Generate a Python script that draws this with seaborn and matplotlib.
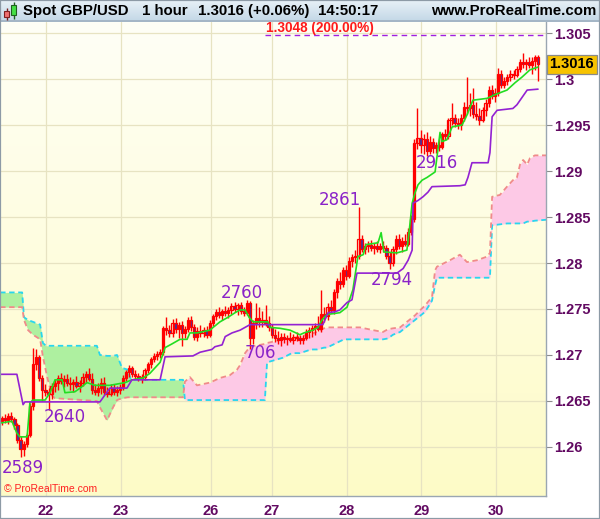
import numpy as np
import matplotlib
matplotlib.use("Agg")
import matplotlib.pyplot as plt
import matplotlib.transforms as mtransforms
from matplotlib.patches import Rectangle
import seaborn as sns

# ---------------- data ----------------
first_open = 1.2628
closes = [1.2631, 1.2629, 1.2634, 1.2630, 1.2624, 1.2608, 1.2598, 1.2603, 1.2613, 1.2645,
          1.2690, 1.2698, 1.2675, 1.2662, 1.2660, 1.2658, 1.2666, 1.2670, 1.2675, 1.2672,
          1.2674, 1.2670, 1.2668, 1.2671, 1.2666, 1.2670, 1.2676, 1.2679, 1.2674, 1.2662,
          1.2660, 1.2664, 1.2670, 1.2660, 1.2658, 1.2664, 1.2660, 1.2662, 1.2665, 1.2675,
          1.2681, 1.2686, 1.2679, 1.2677, 1.2674, 1.2676, 1.2684, 1.2690, 1.2696, 1.2699,
          1.2701, 1.2703, 1.2729, 1.2727, 1.2724, 1.2735, 1.2728, 1.2733, 1.2724, 1.2728,
          1.2738, 1.2730, 1.2720, 1.2726, 1.2724, 1.2727, 1.2722, 1.2735, 1.2742, 1.2747,
          1.2744, 1.2748, 1.2746, 1.2749, 1.2753, 1.2750, 1.2754, 1.2748, 1.2746, 1.2757,
          1.2718, 1.2735, 1.2740, 1.2736, 1.2738, 1.2735, 1.2730, 1.2722, 1.2719, 1.2716,
          1.2720, 1.2717, 1.2719, 1.2716, 1.2720, 1.2718, 1.2716, 1.2719, 1.2725, 1.2727,
          1.2729, 1.2731, 1.2728, 1.2745, 1.2742, 1.2752, 1.2749, 1.2768, 1.2780, 1.2777,
          1.2792, 1.2786, 1.2802, 1.2806, 1.2808, 1.2826, 1.2815, 1.2818, 1.2820, 1.2816,
          1.2819, 1.2815, 1.2818, 1.2816, 1.2808, 1.2800, 1.2815, 1.2826, 1.2818, 1.2824,
          1.2821, 1.2834, 1.2848, 1.2930, 1.2936, 1.2928, 1.2935, 1.2922, 1.2932, 1.2925,
          1.2928, 1.2926, 1.2940, 1.2938, 1.2955, 1.2958, 1.2952, 1.2950, 1.2958, 1.2970,
          1.2968, 1.2972, 1.2962, 1.2960, 1.2956, 1.2966, 1.2974, 1.2988, 1.2982, 1.2985,
          1.3006, 1.2994, 1.2998, 1.3002, 1.3006, 1.3004, 1.3011, 1.3019, 1.3016, 1.3018,
          1.3015, 1.3020, 1.3024, 1.3016]
highs = [1.2634, 1.2636, 1.2637, 1.2638, 1.2633, 1.2626, 1.2612, 1.2606, 1.2615, 1.2648,
         1.2708, 1.2706, 1.2700, 1.2678, 1.2668, 1.2664, 1.2670, 1.2674, 1.2678, 1.2680,
         1.2678, 1.2679, 1.2676, 1.2674, 1.2677, 1.2673, 1.2680, 1.2683, 1.2686, 1.2680,
         1.2668, 1.2670, 1.2675, 1.2676, 1.2665, 1.2668, 1.2668, 1.2666, 1.2668, 1.2678,
         1.2684, 1.2689, 1.2688, 1.2684, 1.2680, 1.2679, 1.2686, 1.2692, 1.2698, 1.2702,
         1.2704, 1.2706, 1.2732, 1.2741, 1.2733, 1.2739, 1.2740, 1.2736, 1.2737, 1.2732,
         1.2741, 1.2742, 1.2734, 1.2730, 1.2733, 1.2730, 1.2732, 1.2738, 1.2745, 1.2750,
         1.2752, 1.2750, 1.2753, 1.2752, 1.2756, 1.2758, 1.2757, 1.2758, 1.2752, 1.2760,
         1.2759, 1.2738, 1.2756, 1.2752, 1.2748, 1.2754, 1.2742, 1.2734, 1.2728, 1.2726,
         1.2724, 1.2724, 1.2722, 1.2725, 1.2723, 1.2725, 1.2722, 1.2722, 1.2728, 1.2730,
         1.2733, 1.2735, 1.2742, 1.2771, 1.2752, 1.2756, 1.2760, 1.2772, 1.2784, 1.2790,
         1.2796, 1.2798, 1.2806, 1.2810, 1.2814, 1.2861, 1.2830, 1.2822, 1.2824, 1.2825,
         1.2822, 1.2824, 1.2822, 1.2824, 1.2820, 1.2812, 1.2818, 1.2830, 1.2832, 1.2828,
         1.2832, 1.2838, 1.2852, 1.2935, 1.2968, 1.2945, 1.2940, 1.2942, 1.2938, 1.2936,
         1.2932, 1.2935, 1.2942, 1.2946, 1.2958, 1.2974, 1.2962, 1.2958, 1.2962, 1.2975,
         1.3002, 1.2985, 1.2990, 1.2975, 1.2968, 1.2970, 1.2978, 1.2992, 1.2994, 1.2990,
         1.3012, 1.3010, 1.3002, 1.3006, 1.3010, 1.3010, 1.3014, 1.3022, 1.3028, 1.3022,
         1.3024, 1.3024, 1.3026, 1.3026]
lows = [1.2624, 1.2626, 1.2625, 1.2627, 1.2620, 1.2604, 1.2589, 1.2590, 1.2600, 1.2611,
        1.2640, 1.2684, 1.2672, 1.2650, 1.2655, 1.2640, 1.2652, 1.2660, 1.2662, 1.2668,
        1.2665, 1.2666, 1.2662, 1.2660, 1.2664, 1.2660, 1.2666, 1.2670, 1.2672, 1.2658,
        1.2656, 1.2655, 1.2658, 1.2656, 1.2654, 1.2655, 1.2656, 1.2655, 1.2658, 1.2662,
        1.2672, 1.2676, 1.2676, 1.2674, 1.2672, 1.2670, 1.2673, 1.2680, 1.2686, 1.2692,
        1.2695, 1.2697, 1.2700, 1.2722, 1.2720, 1.2720, 1.2724, 1.2719, 1.2710, 1.2718,
        1.2725, 1.2726, 1.2716, 1.2715, 1.2720, 1.2720, 1.2718, 1.2720, 1.2732, 1.2738,
        1.2740, 1.2738, 1.2742, 1.2740, 1.2745, 1.2747, 1.2744, 1.2745, 1.2742, 1.2743,
        1.2706, 1.2712, 1.2728, 1.2730, 1.2730, 1.2732, 1.2726, 1.2718, 1.2714, 1.2712,
        1.2710, 1.2713, 1.2711, 1.2714, 1.2712, 1.2715, 1.2712, 1.2712, 1.2716, 1.2718,
        1.2720, 1.2722, 1.2726, 1.2725, 1.2736, 1.2738, 1.2746, 1.2745, 1.2762, 1.2772,
        1.2774, 1.2782, 1.2784, 1.2796, 1.2800, 1.2804, 1.2812, 1.2810, 1.2812, 1.2813,
        1.2810, 1.2812, 1.2811, 1.2812, 1.2804, 1.2794, 1.2797, 1.2810, 1.2815, 1.2812,
        1.2818, 1.2818, 1.2830, 1.2845, 1.2924, 1.2920, 1.2918, 1.2916, 1.2918, 1.2920,
        1.2920, 1.2922, 1.2924, 1.2934, 1.2935, 1.2950, 1.2948, 1.2946, 1.2945, 1.2954,
        1.2962, 1.2960, 1.2958, 1.2955, 1.2950, 1.2953, 1.2960, 1.2970, 1.2978, 1.2975,
        1.2982, 1.2990, 1.2990, 1.2994, 1.2998, 1.3000, 1.3002, 1.3008, 1.3012, 1.3010,
        1.3012, 1.3006, 1.3010, 1.2998]

tenkan_x = [-0.6, 3.2, 4.8, 5.8, 8.1, 9.0, 10.0, 13.9, 15.5, 17.1, 19.4, 20.3, 23.5, 25.2,
            27.4, 30.0, 34.8, 39.7, 41.9, 45.5, 47.7, 51.0, 52.6, 54.8, 57.4, 59.7, 60.6,
            62.9, 67.1, 68.1, 70.3, 72.9, 75.2, 76.8, 78.4, 79.7, 81.0, 85.8, 86.5, 89.7,
            92.9, 96.1, 97.4, 100.3, 101.9, 103.2, 104.8, 109.0, 111.3, 113.2, 114.8, 116.5,
            117.4, 121.3, 122.3, 123.2, 127.4, 130.6, 131.3, 132.3, 133.2, 134.2, 135.5,
            137.1, 139.7, 140.6, 141.3, 141.9, 143.5, 145.2, 148.4, 150.0, 151.9, 156.5,
            159.0, 162.9, 165.5, 167.7, 170.3, 172.9]
tenkan_y = [1.2626, 1.2628, 1.2615, 1.2611, 1.2611, 1.2648, 1.2651, 1.2651, 1.2659, 1.2673,
            1.2673, 1.2659, 1.2660, 1.2664, 1.2670, 1.2667, 1.2667, 1.2670, 1.2673, 1.2675,
            1.2680, 1.2692, 1.2708, 1.2712, 1.2717, 1.2717, 1.2724, 1.2724, 1.2727, 1.2730,
            1.2736, 1.2741, 1.2746, 1.2749, 1.2749, 1.2741, 1.2736, 1.2736, 1.2730, 1.2729,
            1.2727, 1.2722, 1.2724, 1.2727, 1.2730, 1.2738, 1.2744, 1.2746, 1.2752, 1.2771,
            1.2807, 1.2809, 1.2820, 1.2822, 1.2833, 1.2812, 1.2811, 1.2814, 1.2833, 1.2865,
            1.2876, 1.2885, 1.2890, 1.2893, 1.2899, 1.2923, 1.2942, 1.2932, 1.2934, 1.2948,
            1.2950, 1.2961, 1.2977, 1.2979, 1.2983, 1.2988, 1.2996, 1.3002, 1.3010, 1.3013]

kijun_x = [-0.6, 4.8, 6.8, 7.4, 31.6, 34.8, 40.3, 41.9, 51.0, 52.6, 61.6, 63.9, 67.7, 68.7,
           71.0, 72.0, 74.2, 76.8, 78.4, 80.0, 103.5, 105.2, 107.4, 109.0, 111.3, 112.9,
           114.5, 127.4, 129.4, 131.0, 132.3, 132.6, 134.2, 135.8, 137.4, 138.7, 147.7,
           149.4, 150.3, 151.6, 156.8, 157.4, 158.1, 159.7, 164.8, 166.1, 169.4, 172.9]
kijun_y = [1.2679, 1.2679, 1.2646, 1.2649, 1.2649, 1.2664, 1.2664, 1.2673, 1.2673, 1.2698,
           1.2699, 1.2703, 1.2706, 1.2709, 1.2711, 1.2720, 1.2724, 1.2727, 1.2730, 1.2733,
           1.2733, 1.2746, 1.2747, 1.2749, 1.2757, 1.2760, 1.2789, 1.2789, 1.2794, 1.2803,
           1.2814, 1.2865, 1.2868, 1.2872, 1.2877, 1.2883, 1.2884, 1.2885, 1.2893, 1.2909,
           1.2909, 1.2920, 1.2959, 1.2966, 1.2968, 1.2972, 1.2988, 1.2989]

cloud_x = [-0.6, 6.5, 7.1, 8.4, 10.0, 12.3, 13.2, 14.2, 14.8, 16.1, 17.1, 30.6, 31.6, 33.9,
           35.8, 37.1, 38.7, 40.6, 41.6, 58.4, 59.0, 60.6, 62.9, 67.1, 70.3, 73.5, 75.8,
           76.8, 78.4, 80.0, 84.8, 85.5, 90.6, 93.5, 96.1, 99.7, 101.6, 103.9, 104.8, 110.3,
           115.5, 119.7, 122.9, 124.5, 126.1, 128.4, 133.2, 136.5, 138.7, 139.7, 140.3,
           144.5, 147.7, 150.0, 153.2, 156.5, 157.4, 158.1, 160.6, 162.9, 164.8, 166.1,
           167.1, 168.1, 169.4, 170.3, 171.9, 175.5]
span_a = [1.2768, 1.2768, 1.2741, 1.2738, 1.2736, 1.2733, 1.2713, 1.2710, 1.2710, 1.2710,
          1.2710, 1.2710, 1.2700, 1.2699, 1.2699, 1.2700, 1.2686, 1.2684, 1.2673, 1.2673,
          1.2651, 1.2651, 1.2651, 1.2651, 1.2651, 1.2651, 1.2651, 1.2651, 1.2651, 1.2651,
          1.2651, 1.2692, 1.2697, 1.2702, 1.2702, 1.2706, 1.2706, 1.2708, 1.2708, 1.2717,
          1.2717, 1.2717, 1.2717, 1.2718, 1.2722, 1.2725, 1.2738, 1.2747, 1.2759, 1.2776,
          1.2784, 1.2784, 1.2784, 1.2784, 1.2784, 1.2784, 1.2784, 1.2841, 1.2842, 1.2843,
          1.2843, 1.2843, 1.2843, 1.2843, 1.2845, 1.2845, 1.2846, 1.2847]
span_b = [1.2752, 1.2752, 1.2738, 1.2727, 1.2722, 1.2717, 1.2698, 1.2682, 1.2673, 1.2656,
          1.2653, 1.2650, 1.2643, 1.2629, 1.2643, 1.2651, 1.2653, 1.2654, 1.2654, 1.2654,
          1.2671, 1.2676, 1.2667, 1.2670, 1.2675, 1.2678, 1.2684, 1.2689, 1.2702, 1.2709,
          1.2712, 1.2713, 1.2717, 1.2718, 1.2720, 1.2723, 1.2725, 1.2729, 1.2730, 1.2730,
          1.2730, 1.2727, 1.2725, 1.2728, 1.2729, 1.2730, 1.2743, 1.2754, 1.2763, 1.2792,
          1.2796, 1.2803, 1.2809, 1.2801, 1.2803, 1.2807, 1.2811, 1.2872, 1.2874, 1.2883,
          1.2890, 1.2893, 1.2907, 1.2912, 1.2907, 1.2914, 1.2917, 1.2917]

day_ticks = [14.2, 38.4, 67.4, 87.1, 111.3, 135.2, 159.4]
day_labels = ["22", "23", "26", "27", "28", "29", "30"]
price_ticks = [1.26, 1.265, 1.27, 1.275, 1.28, 1.285, 1.29, 1.295, 1.3, 1.305]
price_labels = ["1.26", "1.265", "1.27", "1.275", "1.28", "1.285", "1.29", "1.295", "1.3", "1.305"]

swing_labels = ["2589", "2640", "2760", "706", "2861", "2794", "2916"]
swing_x = [6.6, 20.3, 77.4, 83.2, 109.0, 125.8, 140.3]
swing_y = [1.2577, 1.2633, 1.2767, 1.2702, 1.2868, 1.2781, 1.2909]

target_price = 1.3048
target_start = 84.8
last_price = 1.3016

# ---------------- styling ----------------
sns.set_style("white")
plt.rcParams['font.family'] = ['Liberation Sans', 'DejaVu Sans']

W, H = 600, 519
fig = plt.figure(figsize=(W / 100, H / 100), dpi=100)
fig.patch.set_facecolor("white")

def fy(py):
    return 1 - py / H

AX_TOP, AX_BOT, AX_RIGHT = 22, 496, 546
ax = fig.add_axes([0, fy(AX_BOT), AX_RIGHT / W, (AX_BOT - AX_TOP) / H])
XMIN, XMAX = -0.645, 175.48
YMIN, YMAX = 1.25467, 1.30620
ax.set_xlim(XMIN, XMAX)
ax.set_ylim(YMIN, YMAX)

# background gradient
grad = np.linspace(0, 1, 256).reshape(-1, 1)
top_c = np.array([1.0, 1.0, 0.965])
bot_c = np.array([0.995, 0.985, 0.78])
img = top_c[None, None, :] * (1 - grad[:, :, None]) + bot_c[None, None, :] * grad[:, :, None]
ax.imshow(img, extent=[XMIN, XMAX, YMIN, YMAX], aspect="auto", origin="upper", zorder=0)

ax.set_axisbelow(True)
ax.grid(True, color="#e7e3c2", lw=0.9)

# cloud
cx = np.array(cloud_x)
sa = np.array(span_a)
sb = np.array(span_b)
ax.fill_between(cx, sa, sb, where=sa >= sb, interpolate=True, facecolor="#aef0a0", lw=0, zorder=1)
ax.fill_between(cx, sa, sb, where=sa < sb, interpolate=True, facecolor="#fdc9e6", lw=0, zorder=1)
ax.plot(cx, sa, color="#28d6ee", lw=1.3, ls=(0, (3, 2)), zorder=1.5)
ax.plot(cx, sb, color="#f08a8a", lw=1.3, ls=(0, (3, 2)), zorder=1.5)

# candles
closes_a = np.array(closes)
opens_a = np.concatenate([[first_open], closes_a[:-1]])
highs_a = np.array(highs)
lows_a = np.array(lows)
idx = np.arange(len(closes_a))
hi = np.maximum(highs_a, np.maximum(opens_a, closes_a))
lo = np.minimum(lows_a, np.minimum(opens_a, closes_a))
ax.vlines(idx, lo, hi, color="#ff0000", lw=1.0, zorder=3)
body_lo = np.minimum(opens_a, closes_a)
body_h = np.maximum(np.abs(closes_a - opens_a), 0.00006)
up = closes_a >= opens_a
ax.bar(idx[up], body_h[up], bottom=body_lo[up], width=0.72, facecolor="none",
       edgecolor="#ff0000", lw=0.9, zorder=3.2)
ax.bar(idx[~up], body_h[~up], bottom=body_lo[~up], width=0.72, facecolor="#4a2f99",
       edgecolor="#ff0000", lw=0.9, zorder=3.2)

# ichimoku lines
sns.lineplot(x=tenkan_x, y=tenkan_y, ax=ax, color="#22dd22", lw=1.2, sort=False,
             estimator=None, zorder=4)
sns.lineplot(x=kijun_x, y=kijun_y, ax=ax, color="#9322d2", lw=1.2, sort=False,
             estimator=None, zorder=4)

# swing labels
for t, x, y in zip(swing_labels, swing_x, swing_y):
    ax.text(x, y, t, color="#8a22c8", fontsize=12, ha="center", va="center",
            family="DejaVu Sans", zorder=6)

# target line
ax.hlines(target_price, target_start, XMAX, colors="#a020e0", lw=1.0, ls=(0, (4, 3)), zorder=5)
ax.text(target_start + 0.3, 1.30557, "1.3048 (200.00%)", color="#ff1a1a", fontsize=9.8,
        fontweight="bold", ha="left", va="center", zorder=6)

# axes
ax.yaxis.tick_right()
ax.set_yticks(price_ticks)
ax.set_yticklabels(price_labels)
ax.set_xticks(day_ticks)
ax.set_xticklabels(day_labels)
ax.tick_params(axis="both", which="both", direction="out", length=4, width=0.8,
               color="#8c8c8c", labelcolor="#620a62", labelsize=10.5, pad=2)
for lab in ax.get_xticklabels() + ax.get_yticklabels():
    lab.set_fontweight("bold")
ax.tick_params(axis="x", pad=2)
ax.set_xlabel("")
ax.set_ylabel("")
for s in ["top", "left"]:
    ax.spines[s].set_visible(False)
for s in ["right", "bottom"]:
    ax.spines[s].set_color("#9aa6b2")
    ax.spines[s].set_linewidth(1.0)

# last price box
trans = mtransforms.blended_transform_factory(ax.transAxes, ax.transData)
ax.text(1.006, last_price, "1.3016", transform=trans, fontsize=10.5, fontweight="bold",
        color="black", ha="left", va="center", clip_on=False, zorder=10,
        bbox=dict(boxstyle="square,pad=0.18", fc="#f7c300", ec="#8a8a8a", lw=0.9))

fig.text(4 / W, fy(489), "\u00a9 ProRealTime.com", color="#ff2020", fontsize=7.5,
         ha="left", va="center")

# title bar
tax = fig.add_axes([0, fy(AX_TOP), 1, AX_TOP / H])
tax.set_xlim(0, W)
tax.set_ylim(AX_TOP, 0)
tg = np.linspace(0, 1, 64).reshape(-1, 1)
t_top = np.array([0.91, 0.945, 0.97])
t_bot = np.array([0.76, 0.84, 0.9])
timg = t_top[None, None, :] * (1 - tg[:, :, None]) + t_bot[None, None, :] * tg[:, :, None]
tax.imshow(timg, extent=[0, W, AX_TOP, 0], aspect="auto", zorder=0)
tax.axhline(AX_TOP - 0.5, color="#9fb0c0", lw=1.2)
tax.axis("off")
# icon
tax.vlines(6.5, 8, 20, color="#7a2020", lw=1)
tax.add_patch(Rectangle((4, 11), 5, 6, fc="#f07070", ec="#802020", lw=0.8, zorder=3))
tax.vlines(13.5, 2, 19, color="#206020", lw=1)
tax.add_patch(Rectangle((11, 5), 5, 10, fc="#44e044", ec="#206020", lw=0.8, zorder=3))
tstyle = dict(fontsize=10.8, fontweight="bold", color="black", va="center")
tax.text(23, 11.5, "Spot GBP/USD", ha="left", **tstyle)
tax.text(142, 11.5, "1 hour", ha="left", **tstyle)
tax.text(198, 11.5, "1.3016 (+0.06%)", ha="left", **tstyle)
tax.text(318, 11.5, "14:50:17", ha="left", **tstyle)
tax.text(596, 11.5, "www.ProRealTime.com", ha="right", **tstyle)

# figure border
fig.patches.append(Rectangle((0, 0), 1, 1, transform=fig.transFigure, fill=False,
                             ec="#8d9aa6", lw=1.6, zorder=20))

fig.savefig("out.png", dpi=100)
